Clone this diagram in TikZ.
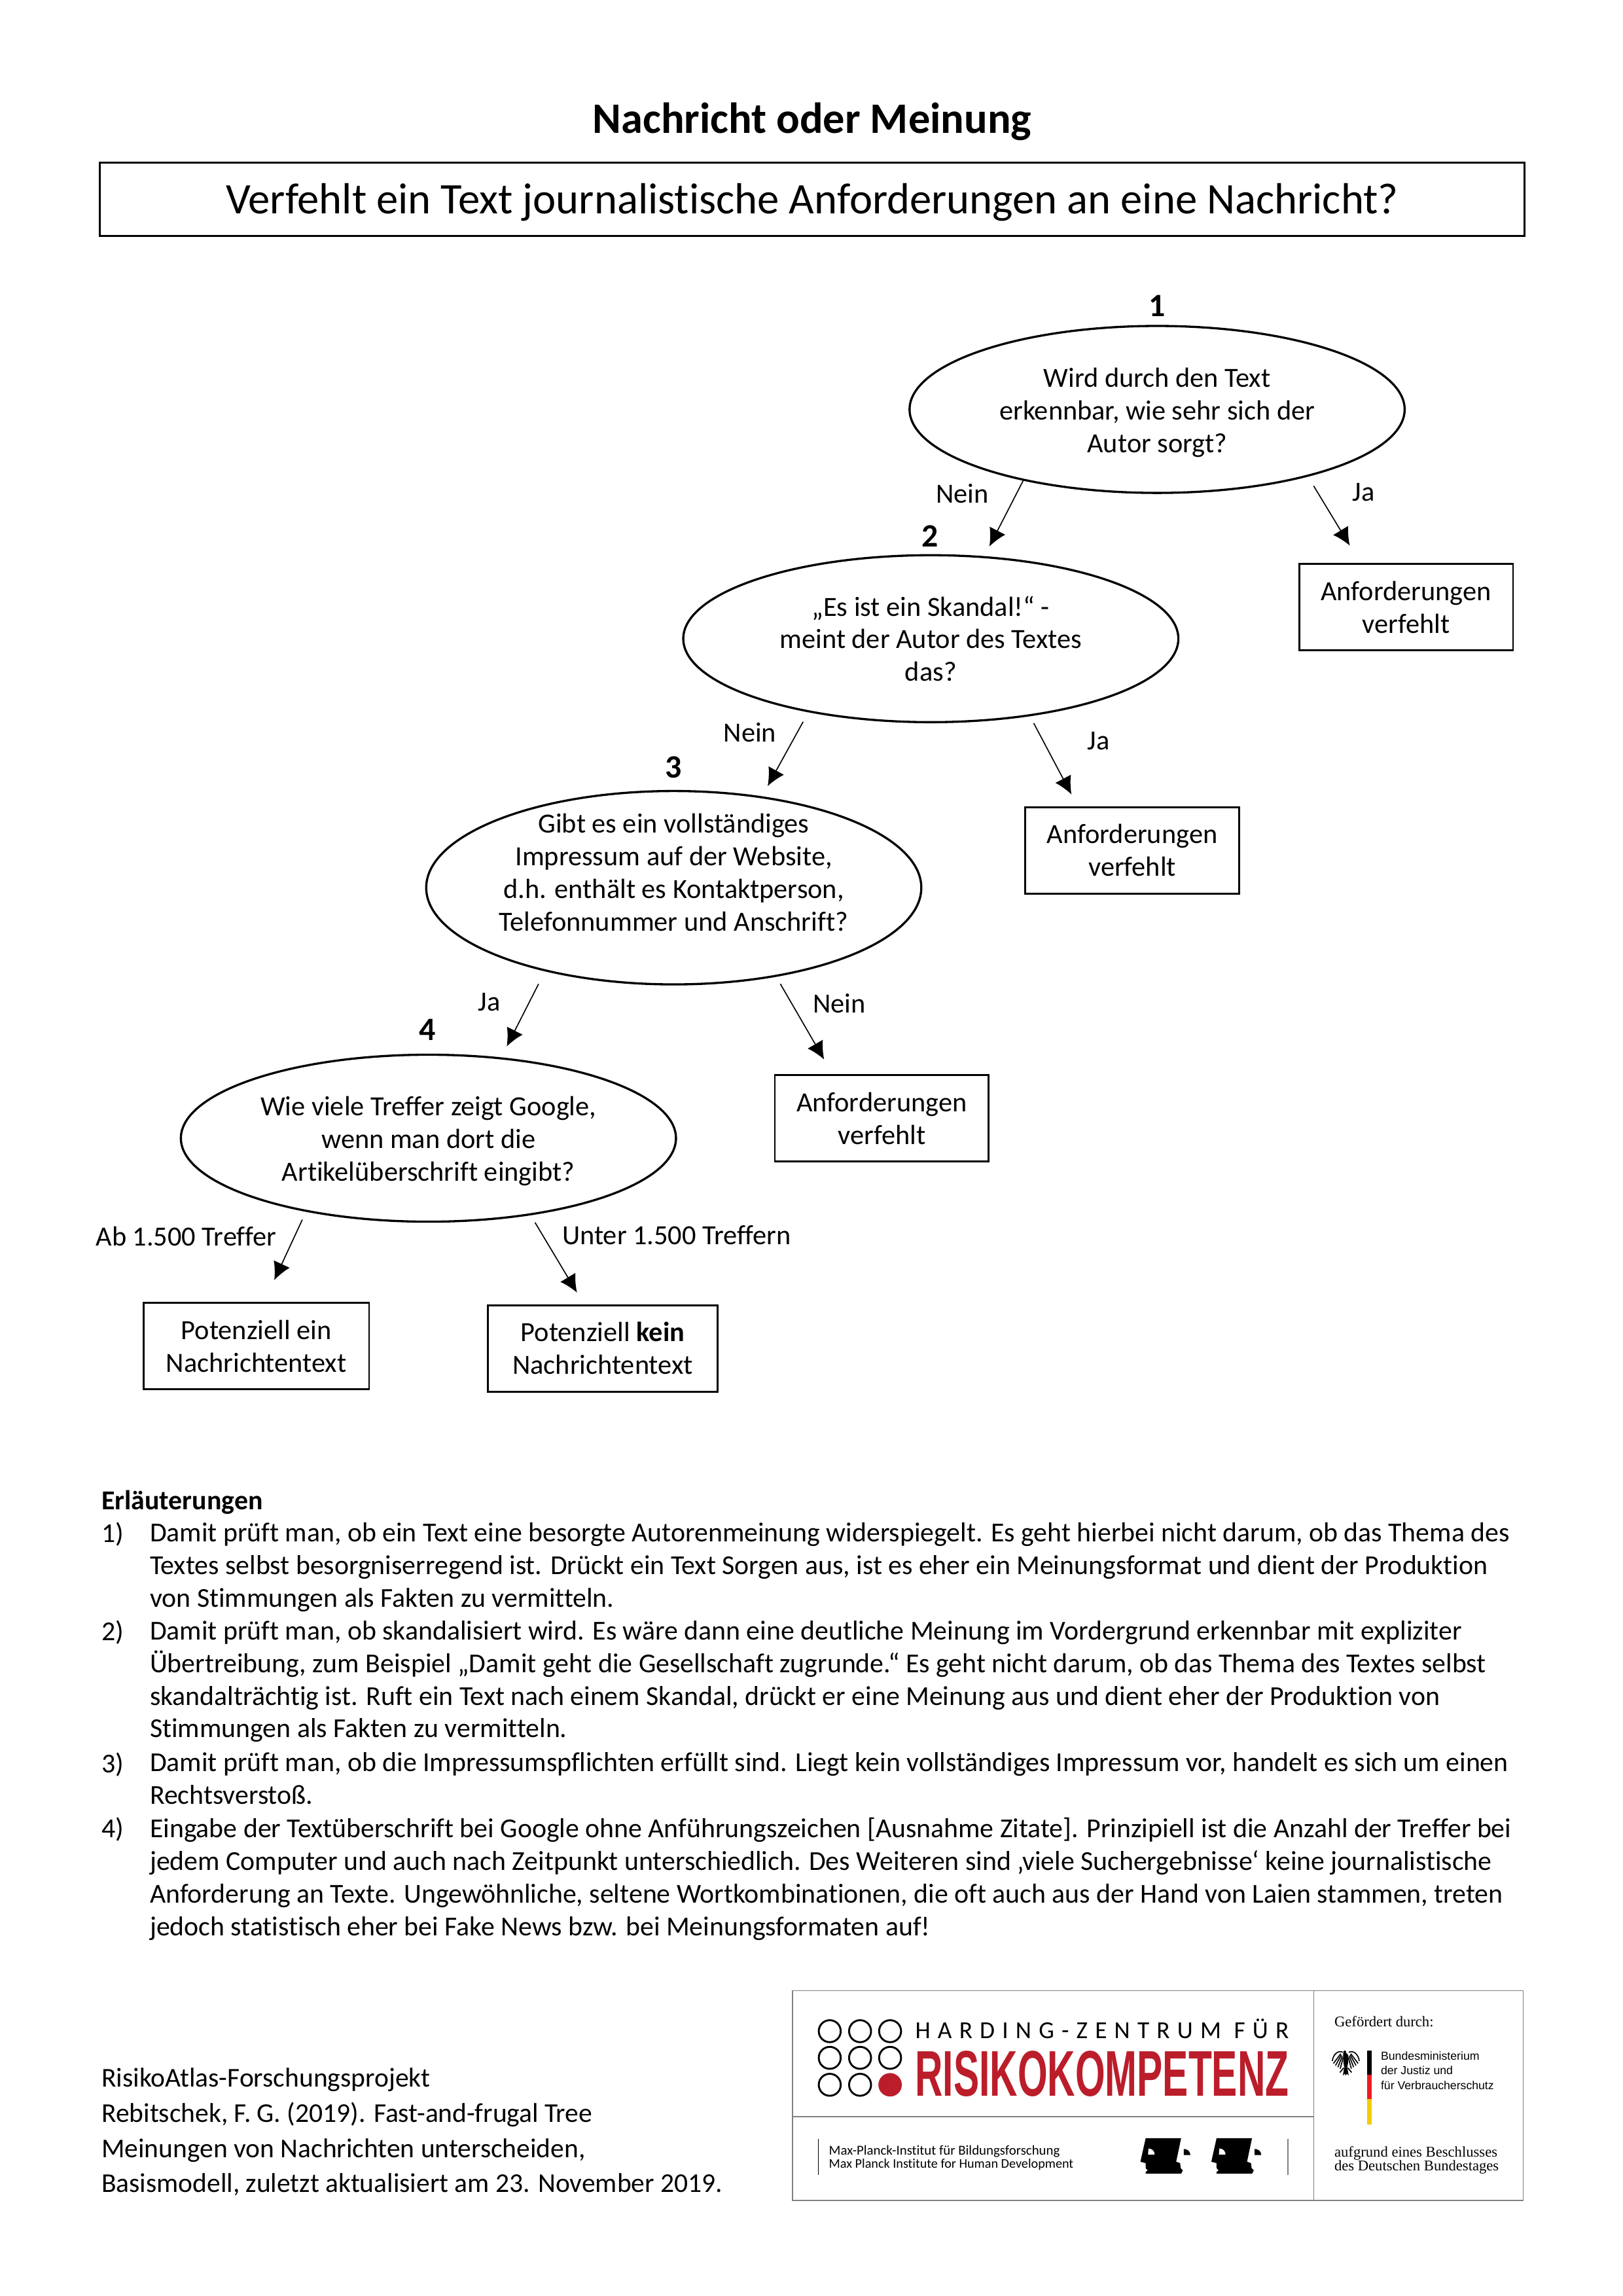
\documentclass[tikz,border=0pt]{standalone}
\usepackage{fontspec}
\setmainfont{Carlito}[Ligatures=NoCommon]
\newfontfamily\logoserif{Liberation Serif}
\newfontfamily\logosans{Liberation Sans}
\usetikzlibrary{shapes.geometric,arrows.meta}
\definecolor{riskred}{RGB}{187,29,42}
\definecolor{flagred}{RGB}{237,28,36}
\definecolor{flaggold}{RGB}{242,205,0}
\newcommand{\bodysize}{\fontsize{10.2}{12.02pt}\selectfont}
\newcommand{\notesize}{\fontsize{10.07}{12.02pt}\selectfont}
\tikzset{question/.style={draw=black,line width=0.8pt,ellipse,inner sep=0pt,minimum width=6.406cm,minimum height=2.16cm}}
\tikzset{questiontext/.style={inner sep=0pt,align=center,font=\bodysize}}
\tikzset{result/.style={draw=black,line width=0.7pt,minimum width=2.767cm,minimum height=1.118cm,inner sep=0pt,align=center,font=\bodysize}}
\tikzset{arrow/.style={line width=0.4pt,-{Latex[length=6.5pt,width=6.5pt]}}}
\tikzset{label/.style={font=\bodysize,inner sep=0pt}}
\tikzset{number/.style={font=\fontsize{12}{13pt}\selectfont\bfseries,inner sep=0pt}}
\tikzset{para/.style={font=\notesize,inner sep=0pt,anchor=north west,align=left}}
\tikzset{logotext/.style={inner sep=0pt,anchor=base west,align=left}}
\tikzset{face/.pic={
  \fill[black] (3.6,0) -- (27.8,0) -- (24.4,16.1) -- (27.1,17.1) -- (27.5,20.5) -- (29,22) -- (27.8,24.3) -- (3.6,24.3) -- (3.6,23.1) -- (5,22) -- (3.6,20.5) -- (3.6,17.1) -- (0,16.1) -- cycle;
  \fill[white] (5.2,11.2) -- (5.5,7.1) .. controls (8,7.1) and (9.7,9) .. (9.7,11.2) -- cycle;
  \fill[black] (29.6,11.6) -- (29.6,7.4) .. controls (32,7.4) and (34.1,9) .. (34.1,11.6) -- cycle;
}}
\tikzset{eagle/.pic={
  \fill[black] (-0.7,1.6) circle (1);
  \fill[black] (-1.8,2.4) -- (0.6,2.4) -- (1.8,4) -- (1.6,9) -- (1,12) -- (-1,12) -- (-1.6,9) -- (-1.8,4) -- cycle;
  \fill[black] (-1,12) -- (1,12) -- (2,17.6) -- (0.6,16.4) -- (0,17.8) -- (-0.6,16.4) -- (-2,17.6) -- cycle;
  \foreach \s in {-1,1}{
    \begin{scope}[xscale=\s,black,line width=0.4pt]
    \draw (2,1.8) .. controls (5,0.2) and (8.6,3) .. (9.2,7.8);
    \draw (3.4,2.8) -- (8.4,9.4);
    \draw (3,3.6) -- (7,10.8);
    \draw (2.4,4.4) -- (5.4,12);
    \draw (1.8,5.4) -- (3.8,13);
    \draw (1.4,12.4) -- (4,15.6);
    \end{scope}
  }
}}
\begin{document}
\begin{tikzpicture}[x=0.018953cm,y=-0.018953cm]
\useasboundingbox (0,0) rectangle (1108,1567.4);

\node (title) [inner sep=0pt,font=\fontsize{16}{18pt}\selectfont\bfseries] at (554.5,83) {Nachricht oder Meinung};
\node (head) [draw=black,line width=0.7pt,minimum width=18.44cm,minimum height=0.948cm,inner sep=0pt] at (554.5,136) {};
\node (headtext) [inner sep=0pt,font=\fontsize{16.05}{18pt}\selectfont] at (554.5,138) {Verfehlt ein Text journalistische Anforderungen an eine Nachricht?};

\node (q1) [question] at (790,279.5) {};
\node (q1text) [questiontext] at (790,281.8) {Wird durch den Text\\erkennbar, wie sehr sich der\\Autor sorgt?};
\node (q2) [question] at (635.5,436) {};
\node (q2text) [questiontext] at (635.5,436) {„Es ist ein Skandal!“ -\\meint der Autor des Textes\\das?};
\node (q3) [question,minimum height=2.502cm] at (460,606) {};
\node (q3text) [questiontext] at (460,595.5) {Gibt es ein vollständiges\\Impressum auf der Website,\\d.h. enthält es Kontaktperson,\\Telefonnummer und Anschrift?};
\node (q4) [question] at (292.5,777) {};
\node (q4text) [questiontext] at (292.5,779) {Wie viele Treffer zeigt Google,\\wenn man dort die\\Artikelüberschrift eingibt?};

\node (a1) [result] at (960,414.5) {Anforderungen\\verfehlt};
\node (a2) [result] at (773,580.5) {Anforderungen\\verfehlt};
\node (a3) [result] at (602,763.5) {Anforderungen\\verfehlt};
\node (r1) [result,minimum width=2.919cm] at (175,919) {Potenziell ein\\Nachrichtentext};
\node (r2) [result,minimum width=2.975cm] at (411.5,920.5) {Potenziell \textbf{kein}\\Nachrichtentext};

\node (n1) [number] at (790,209) {1};
\node (n2) [number] at (635,366) {2};
\node (n3) [number] at (460,524) {3};
\node (n4) [number] at (292,703) {4};

\draw[arrow,shorten >=4pt] (q1.-152) -- (q2.57);
\draw[arrow,shorten <=4pt,shorten >=7.5pt] (q1.-24.4) -- (a1.136.4);
\draw[arrow,shorten <=4pt,shorten >=4.3pt] (q2.-149.9) -- (q3.46.3);
\draw[arrow,shorten <=2.9pt,shorten >=4.9pt] (q2.-38) -- (a2.141.2);
\draw[arrow,shorten <=5.2pt,shorten >=4.5pt] (q3.-147.1) -- (q4.48.3);
\draw[arrow,shorten <=3pt,shorten >=6.3pt] (q3.-41) -- (a3.138.3);
\draw[arrow,shorten <=3.2pt,shorten >=8.9pt] (q4.-149.1) -- (r1.80.2);
\draw[arrow,shorten <=3.1pt,shorten >=5pt] (q4.-37.6) -- (r2.113.5);

\node (l1) [label] at (657,337) {Nein};
\node (l2) [label] at (931,336) {Ja};
\node (l3) [label] at (512,500) {Nein};
\node (l4) [label] at (750,506) {Ja};
\node (l5) [label] at (334,684) {Ja};
\node (l6) [label] at (573,685) {Nein};
\node (l7) [label] at (127,844) {Ab 1.500 Treffer};
\node (l8) [label] at (462,843) {Unter 1.500 Treffern};

\node (notes) [para] at (69,1017) {\textbf{Erläuterungen}};
\node (m1) [para] at (69,1039) {1)};
\node (t1) [para] at (102,1039) {Damit prüft man, ob ein Text eine besorgte Autorenmeinung widerspiegelt. Es geht hierbei nicht darum, ob das Thema des\\Textes selbst besorgniserregend ist. Drückt ein Text Sorgen aus, ist es eher ein Meinungsformat und dient der Produktion\\von Stimmungen als Fakten zu vermitteln.};
\node (m2) [para] at (69,1106) {2)};
\node (t2) [para] at (102,1106) {Damit prüft man, ob skandalisiert wird. Es wäre dann eine deutliche Meinung im Vordergrund erkennbar mit expliziter\\Übertreibung, zum Beispiel „Damit geht die Gesellschaft zugrunde.“ Es geht nicht darum, ob das Thema des Textes selbst\\skandalträchtig ist. Ruft ein Text nach einem Skandal, drückt er eine Meinung aus und dient eher der Produktion von\\Stimmungen als Fakten zu vermitteln.};
\node (m3) [para] at (69,1196) {3)};
\node (t3) [para] at (102,1196) {Damit prüft man, ob die Impressumspflichten erfüllt sind. Liegt kein vollständiges Impressum vor, handelt es sich um einen\\Rechtsverstoß.};
\node (m4) [para] at (69,1240.5) {4)};
\node (t4) [para] at (102,1240.5) {Eingabe der Textüberschrift bei Google ohne Anführungszeichen [Ausnahme Zitate]. Prinzipiell ist die Anzahl der Treffer bei\\jedem Computer und auch nach Zeitpunkt unterschiedlich. Des Weiteren sind ‚viele Suchergebnisse‘ keine journalistische\\Anforderung an Texte. Ungewöhnliche, seltene Wortkombinationen, die oft auch aus der Hand von Laien stammen, treten\\jedoch statistisch eher bei Fake News bzw. bei Meinungsformaten auf!};

\node (src) [para,font=\fontsize{10}{12.93pt}\selectfont] at (69,1411.5) {RisikoAtlas-Forschungsprojekt\\Rebitschek, F. G. (2019). Fast-and-frugal Tree\\Meinungen von Nachrichten unterscheiden,\\Basismodell, zuletzt aktualisiert am 23. November 2019.};

% logo
\draw[gray,line width=0.4pt] (541,1359) rectangle (1040,1502);
\draw[gray,line width=0.4pt] (897,1359) -- (897,1502);
\draw[gray,line width=0.5pt] (541,1445) -- (897,1445);
\foreach \x in {566.5,587.2,607.7} \foreach \y in {1386.6,1404.8} \draw[black,line width=0.7pt] (\x,\y) circle (7.5);
\foreach \x in {566.5,587.2} \draw[black,line width=0.7pt] (\x,1423.2) circle (7.5);
\fill[riskred] (607.7,1423.2) circle (8);
\node (hz) [logotext] at (624.5,1391.5) {\resizebox{137.5pt}{!}{\addfontfeature{LetterSpace=30}HARDING-ZENTRUM FÜR}};
\node (rk) [logotext,text=riskred] at (624.5,1431.1) {\resizebox{137.5pt}{16.6pt}{\logosans\bfseries RISIKOKOMPETENZ}};
\node (gd) [logotext] at (910.7,1383.7) {\resizebox{36.5pt}{!}{\logoserif Gefördert durch:}};
\pic at (918.8,1399.2) {eagle};
\fill[black] (933.5,1399.7) rectangle (936.5,1416.3);
\fill[flagred] (933.5,1416.3) rectangle (936.5,1433);
\fill[flaggold] (933.5,1433) rectangle (936.5,1450.2);
\node (bm1) [logotext] at (942.4,1406.3) {\resizebox{36.3pt}{!}{\logosans Bundesministerium}};
\node (bm2) [logotext] at (942.4,1416.3) {\resizebox{26.5pt}{!}{\logosans der Justiz und}};
\node (bm3) [logotext] at (942.4,1426.3) {\resizebox{41.6pt}{!}{\logosans für Verbraucherschutz}};
\draw[black,line width=0.3pt] (558.8,1460) -- (558.8,1484.6);
\node (mp1) [logotext] at (565.6,1471) {\resizebox{85pt}{!}{Max-Planck-Institut für Bildungsforschung}};
\node (mp2) [logotext] at (565.6,1480) {\resizebox{90pt}{!}{Max Planck Institute for Human Development}};
\pic at (778.6,1459.6) {face};
\pic at (827,1459.6) {face};
\draw[gray,line width=0.4pt] (879.4,1460) -- (879.4,1484.6);
\node (au1) [logotext] at (910.7,1472.6) {\resizebox{60pt}{!}{\logoserif aufgrund eines Beschlusses}};
\node (au2) [logotext] at (910.7,1482) {\resizebox{60.5pt}{!}{\logoserif des Deutschen Bundestages}};
\end{tikzpicture}
\end{document}
